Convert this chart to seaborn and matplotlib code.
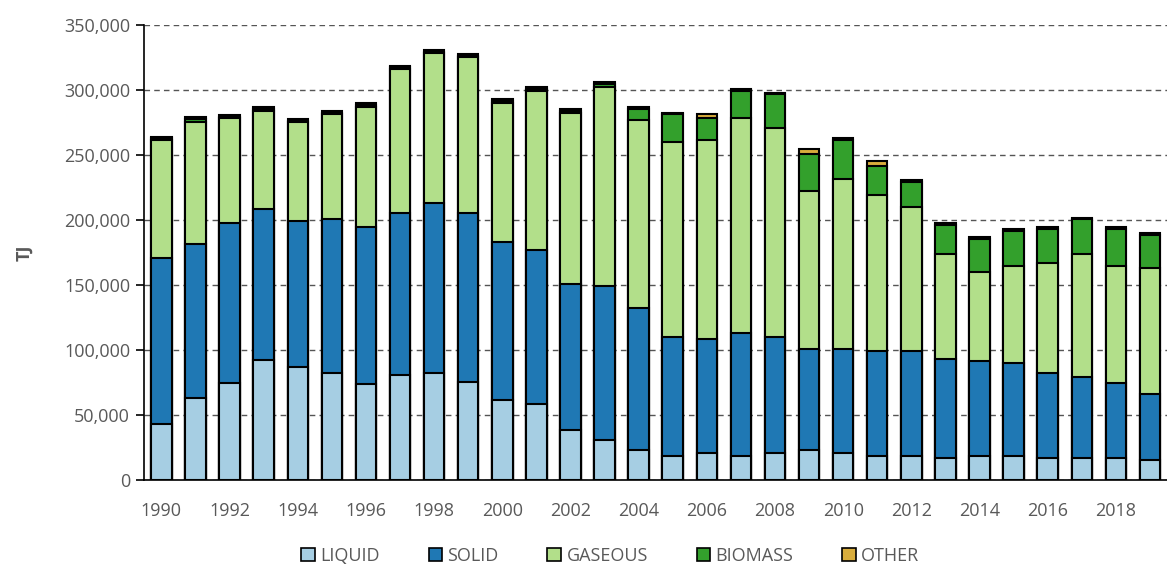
import numpy as np
import pandas as pd
import seaborn as sns
import matplotlib.pyplot as plt
from matplotlib.patches import Patch
from matplotlib.ticker import FuncFormatter, FixedLocator

years = list(range(1990, 2020))

# values in thousand TJ
liquid = [43, 63, 75, 92, 87, 82.6, 73.6, 81, 82.6, 75.1,
          61.3, 58.2, 38.5, 30.8, 23.3, 18.7, 20.5, 18.7, 20.5, 23,
          20.5, 18.7, 18.2, 17.2, 18.7, 18.7, 17.2, 17.2, 17.2, 15.4]
solid = [128, 118.3, 122.9, 116.5, 112.5, 118.4, 121.3, 124.6, 130.4, 130.5,
         121.5, 118.7, 112.3, 118.7, 109.2, 91.0, 87.7, 94.1, 89.2, 77.5,
         80, 80.5, 81.1, 75.9, 73.1, 71, 65.4, 62.3, 57.7, 50.5]
gaseous = [90.5, 93.8, 80.3, 75.6, 75.6, 80.3, 92.3, 110.6, 115.2, 119.5,
           107.4, 122.6, 131.8, 152.6, 144.4, 150.6, 153.6, 165.4, 160.8, 121.8,
           131, 119.8, 110.7, 80.5, 67.9, 74.7, 84.6, 94.1, 89.5, 96.9]
biomass = [1.3, 2.6, 1.3, 1.3, 1.3, 1.3, 1.3, 1.3, 1.3, 1.3,
           1.3, 1.3, 1.3, 2.6, 8.5, 21.0, 16.4, 21.3, 26.2, 28.5,
           30, 22.8, 19.5, 22.6, 25.9, 27.1, 25.9, 26.9, 28.7, 25.7]
other = [1.3, 1.3, 1.3, 1.3, 1.3, 1.3, 1.3, 1.3, 1.3, 1.3,
         1.3, 1.3, 1.3, 1.5, 1.5, 1.2, 3.5, 1.3, 1.3, 3.5,
         1.3, 3.6, 1.3, 1.3, 1.2, 1.2, 1.2, 1.2, 1.2, 1.3]

series = ["LIQUID", "SOLID", "GASEOUS", "BIOMASS", "OTHER"]
colors = ["#a6cee3", "#1f78b4", "#b2df8a", "#33a02c", "#d9ad3c"]

df = pd.DataFrame({"year": [str(y) for y in years],
                   "LIQUID": liquid, "SOLID": solid, "GASEOUS": gaseous,
                   "BIOMASS": biomass, "OTHER": other})
for s in series:
    df[s] = df[s] * 1000
cum = df[series].cumsum(axis=1)

sns.set_style("white")
plt.rcParams["font.family"] = ["Open Sans", "DejaVu Sans"]

fig = plt.figure(figsize=(11.67, 5.64), dpi=100)
ax = fig.add_axes([0.1234, 0.1489, 0.8766, 0.8068])

# stacked bars: draw cumulative totals from the top layer down
for s, c in reversed(list(zip(series, colors))):
    sns.barplot(x=df["year"], y=cum[s], color=c, width=0.6,
                edgecolor="black", linewidth=1.5, ax=ax, saturation=1)

ax.set_xlim(-0.51, 29.1)
ax.set_ylim(0, 350000)
ax.yaxis.set_major_locator(FixedLocator(np.arange(0, 350001, 50000)))
ax.yaxis.set_major_formatter(FuncFormatter(lambda v, p: f"{int(v):,}"))
ax.grid(axis="y", color="#555555", linestyle=(0, (4, 3)), linewidth=1)
ax.set_axisbelow(True)

ax.set_xticks(range(0, 30, 2))
ax.set_xticklabels([str(y) for y in years[::2]])
ax.set_xticks(np.arange(-0.5, 30, 1), minor=True)
ax.tick_params(axis="x", which="major", length=0, pad=16, labelsize=13, labelcolor="#595959")
ax.tick_params(axis="x", which="minor", length=7, width=1.2, color="black", direction="out")
ax.tick_params(axis="y", which="major", length=6, width=1.2, color="black", direction="out",
               labelsize=13, labelcolor="#595959", pad=4, left=True)

for side in ["top", "right"]:
    ax.spines[side].set_visible(False)
for side in ["left", "bottom"]:
    ax.spines[side].set_color("black")
    ax.spines[side].set_linewidth(1.2)

ax.set_xlabel("")
ax.set_ylabel("TJ", fontsize=13, fontweight="bold", color="#595959", labelpad=22)

handles = [Patch(facecolor=c, edgecolor="black", linewidth=1.2, label=s)
           for s, c in zip(series, colors)]
fig.legend(handles=handles, loc="lower center", bbox_to_anchor=(0.523, -0.03), ncol=5,
           frameon=False, fontsize=13, labelcolor="#595959", handlelength=0.75,
           handleheight=0.75, handletextpad=0.3, columnspacing=2.7)

fig.savefig("out.png", dpi=100)
